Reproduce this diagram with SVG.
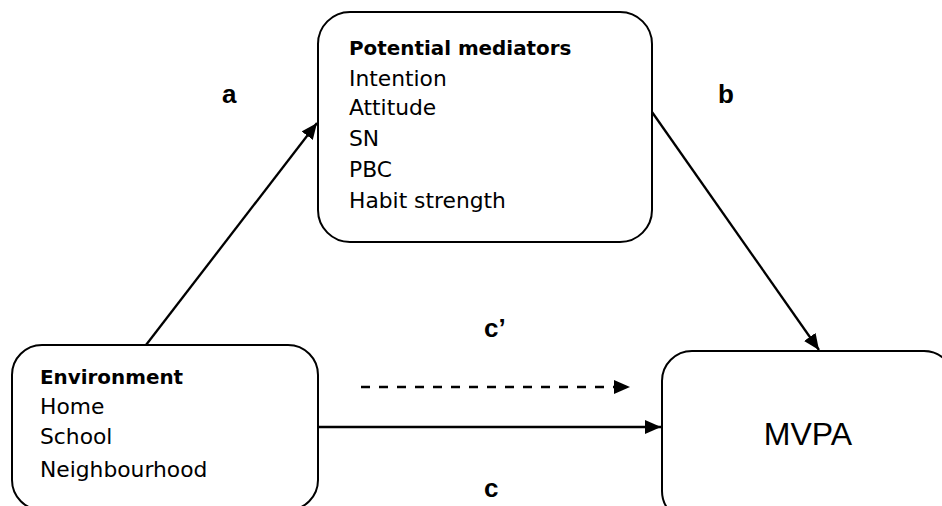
<svg xmlns="http://www.w3.org/2000/svg" width="942" height="506" viewBox="0 0 942 506">
<defs>
<style>
.box{fill:#fff;stroke:#000;stroke-width:2}
.t{font-family:"DejaVu Sans","Liberation Sans",sans-serif;font-size:21.8px;fill:#000}
.h{font-family:"DejaVu Sans","Liberation Sans",sans-serif;font-size:19.9px;font-weight:bold;fill:#000}
.lbl{font-family:"Liberation Sans",Arial,sans-serif;font-size:26px;font-weight:bold;fill:#000}
.big{font-family:"Liberation Sans",Arial,sans-serif;font-size:32px;fill:#000}
.ln{stroke:#000;stroke-width:2.3;fill:none;marker-end:url(#ah)}
</style>
<marker id="ah" markerUnits="userSpaceOnUse" markerWidth="17" markerHeight="15" refX="16" refY="7" orient="auto">
<path d="M0,0 L16,7 L0,14 z" fill="#000"/>
</marker>
</defs>
<rect width="942" height="506" fill="#fff"/>
<g id="connectors">
<line class="ln" x1="146" y1="345" x2="317" y2="123"/>
<line class="ln" x1="652" y1="112" x2="819" y2="350"/>
<line class="ln" x1="361" y1="387" x2="630" y2="387" stroke-dasharray="9,9"/>
<line class="ln" x1="318" y1="427" x2="661" y2="427"/>
</g>
<g id="mediators">
<rect class="box" x="318" y="12" width="334" height="230" rx="32" ry="32"/>
<text class="h" x="349" y="55">Potential mediators</text>
<text class="t" x="349" y="86">Intention</text>
<text class="t" x="349" y="115">Attitude</text>
<text class="t" x="349" y="146">SN</text>
<text class="t" x="349" y="177">PBC</text>
<text class="t" x="349" y="208">Habit strength</text>
</g>
<g id="environment">
<rect class="box" x="12" y="345" width="306" height="165" rx="30" ry="30"/>
<text class="h" x="40" y="384">Environment</text>
<text class="t" x="40" y="414">Home</text>
<text class="t" x="40" y="444">School</text>
<text class="t" x="40" y="477">Neighbourhood</text>
</g>
<g id="mvpa">
<rect class="box" x="662" y="351" width="292" height="170" rx="30" ry="30"/>
<text class="big" x="808" y="445" text-anchor="middle">MVPA</text>
</g>
<g id="labels">
<text class="lbl" x="222" y="103">a</text>
<text class="lbl" x="718" y="103">b</text>
<text class="lbl" x="484" y="337">c’</text>
<text class="lbl" x="484" y="497">c</text>
</g>
</svg>
